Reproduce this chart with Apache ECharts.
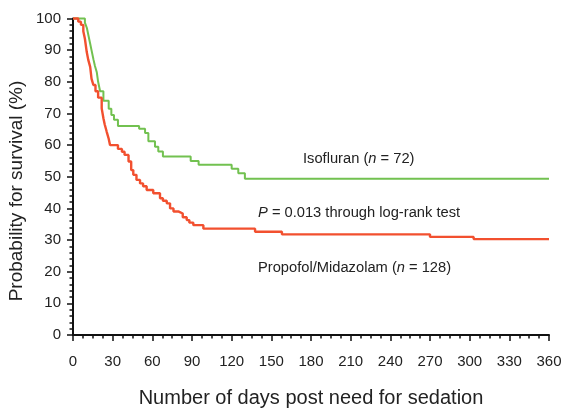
<!DOCTYPE html>
<html>
<head>
<meta charset="utf-8">
<script src="https://cdn.jsdelivr.net/npm/echarts@6/dist/echarts.min.js"></script>
<style>
html,body{margin:0;padding:0;background:#fff;}
#chart{width:562px;height:410px;}
</style>
</head>
<body>
<div id="chart"></div>
<script>
// Kaplan-Meier step data: [day, survival %]
const isofluranDays = [0, 9, 10.5, 12, 13, 14, 15.5, 16.6, 18, 19, 20.5, 23, 27, 29, 31, 34, 50, 54.5, 57, 62, 64.5, 68, 89, 95, 120, 125, 130, 360];
const isofluranSurv = [100, 98.7, 97, 94, 92, 90, 87, 85, 83, 80, 77, 74, 71.5, 69.5, 68, 66, 65.2, 63.8, 61.2, 59.5, 58, 56.4, 55, 53.8, 52.5, 51.1, 49.4, 49.4];

const propofolDays = [0, 4, 6, 7.8, 9, 10.4, 11.5, 13, 14, 15.4, 17, 19, 21.7, 23, 24, 25.5, 27, 28, 34, 37, 39, 42, 44, 45.6, 48, 50.7, 53, 55.7, 60.7, 65.8, 68, 70.9, 73.4, 76, 80, 83, 86, 88, 91, 98.6, 137.7, 158, 270, 303, 360];
const propofolSurv = [100, 99, 98, 96, 93.6, 89.4, 87, 84.7, 81, 79, 77, 75, 71.6, 68.5, 66.5, 64.2, 62, 60, 58.8, 57.9, 56.9, 54.8, 52.1, 50.6, 49, 47.9, 47, 45.8, 44.8, 43.2, 42.4, 41.6, 40, 39, 38.4, 37.2, 36.3, 35.5, 34.7, 33.6, 32.6, 31.8, 31.0, 30.3, 30.3];

const xTicks = [0, 30, 60, 90, 120, 150, 180, 210, 240, 270, 300, 330, 360];
const yTicks = [0, 10, 20, 30, 40, 50, 60, 70, 80, 90, 100];

const xTitle = 'Number of days post need for sedation';
const yTitle = 'Probability for survival (%)';

const zip = (a, b) => a.map((v, i) => [v, b[i]]);

const chart = echarts.init(document.getElementById('chart'), null, {renderer: 'canvas'});
const font = 'Liberation Sans, Arial, Helvetica, sans-serif';
const axisCommon = {
  axisLine: {show: true, onZero: false, lineStyle: {color: '#111', width: 2}},
  axisTick: {show: true, inside: false, length: 6, lineStyle: {color: '#111', width: 1.5}},
  minorTick: {show: true, length: 3.5, lineStyle: {color: '#111', width: 1.5}},
  splitLine: {show: false},
  axisLabel: {color: '#222', fontSize: 15, fontFamily: font}
};
const rich = {i: {fontStyle: 'italic', fontSize: 14.7, fontFamily: font, fill: '#222'}};
chart.setOption({
  animation: false,
  backgroundColor: '#fff',
  grid: {left: 73, right: 13, top: 18.5, bottom: 75, containLabel: false, outerBoundsMode: 'none'},
  xAxis: Object.assign({}, axisCommon, {
    type: 'value', min: xTicks[0], max: xTicks[xTicks.length - 1], interval: 30,
    minorTick: Object.assign({}, axisCommon.minorTick, {splitNumber: 4}),
    axisLabel: Object.assign({}, axisCommon.axisLabel, {margin: 19}),
    name: xTitle, nameLocation: 'middle', nameGap: 53,
    nameTextStyle: {color: '#222', fontSize: 20, fontFamily: font}
  }),
  yAxis: Object.assign({}, axisCommon, {
    type: 'value', min: yTicks[0], max: yTicks[yTicks.length - 1], interval: 10,
    minorTick: Object.assign({}, axisCommon.minorTick, {splitNumber: 5}),
    axisLabel: Object.assign({}, axisCommon.axisLabel, {margin: 12})
  }),
  series: [
    {
      type: 'line', step: 'end', showSymbol: false, clip: false,
      data: zip(isofluranDays, isofluranSurv),
      lineStyle: {color: '#72c150', width: 2}, z: 3
    },
    {
      type: 'line', step: 'end', showSymbol: false, clip: false,
      data: zip(propofolDays, propofolSurv),
      lineStyle: {color: '#f2502f', width: 2.4}, z: 4
    }
  ],
  graphic: [
    {type: 'text', x: 17, y: 191, rotation: Math.PI / 2, style: {
      text: yTitle, fill: '#222', font: '19px ' + font, align: 'center', verticalAlign: 'middle'}},
    {type: 'text', left: 303, top: 151, style: {
      text: 'Isofluran ({i|n} = 72)', fill: '#222', font: '14.7px ' + font, rich: rich}},
    {type: 'text', left: 258, top: 205, style: {
      text: '{i|P} = 0.013 through log-rank test', fill: '#222', font: '14.7px ' + font, rich: rich}},
    {type: 'text', left: 258, top: 260, style: {
      text: 'Propofol/Midazolam ({i|n} = 128)', fill: '#222', font: '14.7px ' + font, rich: rich}}
  ]
});
</script>
</body>
</html>
